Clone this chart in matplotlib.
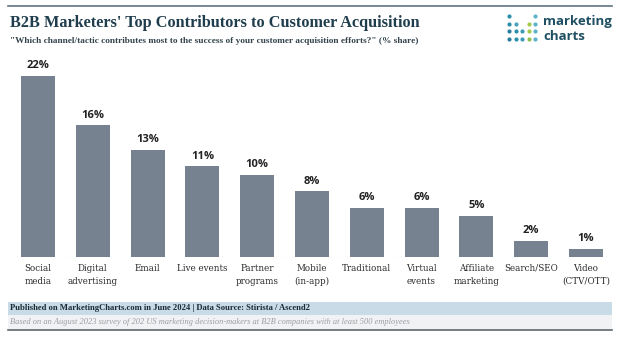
import matplotlib
matplotlib.use("Agg")
import matplotlib.pyplot as plt
from matplotlib.patches import Rectangle
import numpy as np

# channel shares (% of B2B marketers)
channels = ["Social\nmedia", "Digital\nadvertising", "Email", "Live events",
            "Partner\nprograms", "Mobile\n(in-app)", "Traditional", "Virtual\nevents",
            "Affiliate\nmarketing", "Search/SEO", "Video\n(CTV/OTT)"]
shares = [22, 16, 13, 11, 10, 8, 6, 6, 5, 2, 1]

W, H = 620, 349
BAR = "#76828f"
TEAL = "#1f3d4c"
SERIF = "Liberation Serif"

fig = plt.figure(figsize=(W / 100, H / 100), dpi=100)
fig.patch.set_facecolor("white")


def px(x, y):
    return x / W, 1 - y / H


def ftext(x, y, s, **kw):
    fx, fy = px(x, y)
    fig.text(fx, fy, s, **kw)


def frect(x0, y0, x1, y1, color):
    fx0, fy1 = px(x0, y1)
    fig.patches.append(Rectangle((fx0, fy1), (x1 - x0) / W, (y1 - y0) / H,
                                 transform=fig.transFigure, facecolor=color,
                                 edgecolor="none", zorder=0))


# header rule
fig.add_artist(plt.Line2D([8 / W, 612 / W], [1 - 6 / H, 1 - 6 / H],
                          color="#5d7380", lw=1.2))

ftext(10, 23, "B2B Marketers' Top Contributors to Customer Acquisition",
      family=SERIF, weight="bold", size=11.7, color=TEAL, va="center")
ftext(10, 41, "\"Which channel/tactic contributes most to the success of your customer acquisition efforts?\" (% share)",
      family=SERIF, weight="bold", size=6.7, color="#34434c", va="center")

# logo dots
dot_rows = [
    [(0, "#2a8fa8"), (4, "#5ab4c8")],
    [(0, "#2a8fa8"), (1, "#4aa3b8"), (3, "#a3c94a"), (4, "#5ab4c8")],
    [(0, "#2a7fa0"), (1, "#2a8fa8"), (2, "#3b9cb6"), (3, "#a3c94a"), (4, "#5ab4c8")],
    [(0, "#2a7fa0"), (1, "#2a8fa8"), (2, "#3b9cb6"), (3, "#8fc050"), (4, "#5ab4c8")],
]
for r, row in enumerate(dot_rows):
    for c, col in row:
        fx, fy = px(509 + c * 6.5, 16 + r * 7.5)
        fig.add_artist(plt.Line2D([fx], [fy], marker="o", ms=3.0, color=col,
                                  mec="none", transform=fig.transFigure))
ftext(543, 21, "marketing", family="Open Sans", weight="bold", size=9.5,
      color="#1f4f63", va="center")
ftext(543, 36, "charts", family="Open Sans", weight="bold", size=9.5,
      color="#1f4f63", va="center")

# bar chart
ax = fig.add_axes([10.6 / W, 1 - 257 / H, (613.4 - 10.6) / W, (257 - 55) / H])
x = np.arange(len(channels))
ax.bar(x, shares, width=0.62, color=BAR, zorder=2)
for xi, v in zip(x, shares):
    ax.text(xi, v + 0.55, f"{v}%", ha="center", va="bottom", family="Open Sans",
            weight="bold", size=8, color="#222222")
ax.axhline(0, color="#bfc4c8", lw=0.8, ls=(0, (1, 1.5)), zorder=1)
ax.set_xlim(-0.5, len(channels) - 0.5)
ax.set_ylim(0, 24.5)
ax.set_xticks(x)
ax.set_xticklabels(channels, family="DejaVu Serif", size=6.3, color="#2b2b2b",
                   linespacing=1.55)
ax.tick_params(axis="x", length=0, pad=5)
ax.set_yticks([])
for s in ax.spines.values():
    s.set_visible(False)
ax.patch.set_alpha(0)

# footer bands
frect(8, 302, 612, 315, "#c8dbe7")
frect(8, 315, 612, 330, "#f1f2f4")
ftext(10, 308.5, "Published on MarketingCharts.com in June 2024 | Data Source: Stirista / Ascend2",
      family=SERIF, weight="bold", size=6.2, color="#1d2a33", va="center")
ftext(10, 322.5, "Based on an August 2023 survey of 202 US marketing decision-makers at B2B companies with at least 500 employees",
      family=SERIF, style="italic", size=6.05, color="#9a9ea3", va="center")
fig.add_artist(plt.Line2D([8 / W, 612 / W], [1 - 330 / H, 1 - 330 / H],
                          color="#60676d", lw=1.2))

fig.savefig("out.png", dpi=100)
